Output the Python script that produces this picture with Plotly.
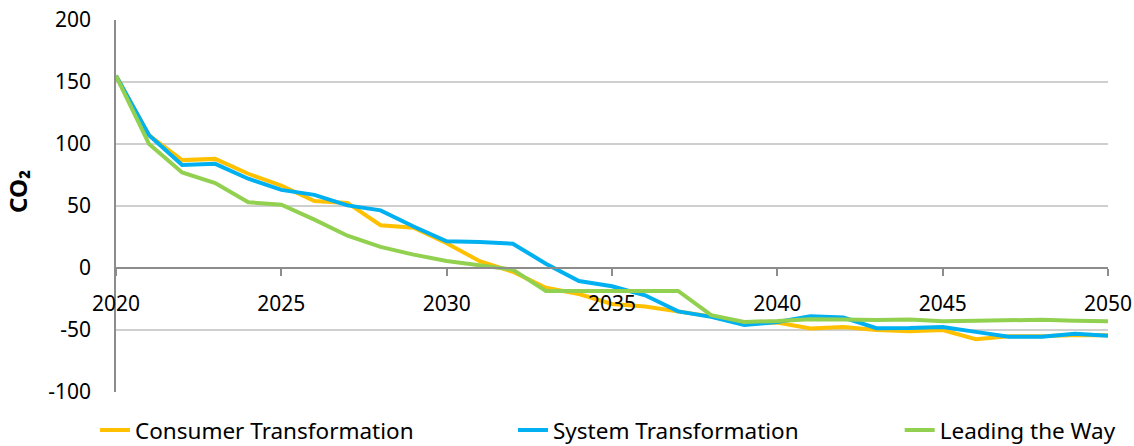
import plotly.graph_objects as go

years = list(range(2020, 2051))
consumer_transformation = [155, 107, 87, 88, 76, 66.5, 54, 52.5, 34.5, 32.5, 20, 5.5, -3, -16, -21,
                           -29, -31, -35, -39, -44.5, -44, -48.8, -47.5, -50, -51, -50, -57.4, -55, -55, -54, -54.3]
system_transformation = [155, 107, 83, 84, 72, 63, 59, 50.5, 46.5, 33.5, 21.5, 21, 19.6, 3.5, -10.5,
                         -14.7, -22, -35, -39.4, -46, -43.5, -39, -40, -48.5, -48.3, -47.5, -51.5, -55.5, -55.5, -53, -54.7]
leading_the_way = [155, 100, 77, 68.5, 53, 51, 39, 26, 17, 10.8, 5.6, 2.2, -1.3, -18.5, -18.5,
                   -18.5, -19.3, -18.5, -38, -43.5, -42.7, -41.3, -41.5, -42, -41.5, -43, -42.6, -42.4, -41.7, -42.6, -43]

x_tick_vals = [2020, 2025, 2030, 2035, 2040, 2045, 2050]
y_tick_vals = [-100, -50, 0, 50, 100, 150, 200]
y_tick_text = ["-100", "-50", "0", "50", "100", "150", "200"]
y_title = "CO₂"

series = [
    ("Consumer Transformation", consumer_transformation, "#FFC000", "legend"),
    ("System Transformation", system_transformation, "#00B0F0", "legend2"),
    ("Leading the Way", leading_the_way, "#92D050", "legend3"),
]

FONT = "Noto Sans"
fig = go.Figure()
for name, vals, col, lg in series:
    fig.add_trace(go.Scatter(x=years, y=vals, name=name, mode="lines", legend=lg,
                             line=dict(color=col, width=4)))

leg_common = dict(orientation="h", xanchor="left", y=-0.103, yanchor="middle",
                  font=dict(size=22.5, family=FONT), bgcolor="rgba(0,0,0,0)")
fig.update_layout(
    width=1134, height=446,
    margin=dict(l=116, r=26, t=20, b=54, autoexpand=False),
    plot_bgcolor="white", paper_bgcolor="white",
    font=dict(family=FONT, color="black", size=21),
    showlegend=True,
    legend=dict(x=-0.0212, **leg_common),
    legend2=dict(x=0.4002, **leg_common),
    legend3=dict(x=0.790, **leg_common),
    xaxis=dict(range=[2020, 2050], tickvals=x_tick_vals,
               anchor="free", position=1/3, showline=True, linecolor="#8c8c8c", linewidth=1.5,
               ticks="outside", ticklen=7, tickcolor="#8c8c8c", tickwidth=1.5,
               showgrid=False, zeroline=False, ticklabelstandoff=10,
               tickfont=dict(size=21, family=FONT)),
    yaxis=dict(range=[-100, 200], tickvals=y_tick_vals, ticktext=y_tick_text,
               showgrid=True, gridcolor="#cfcfcf", gridwidth=1.5, automargin=False,
               showline=True, linecolor="#8c8c8c", linewidth=1.5, zeroline=False,
               ticks="", ticklabelstandoff=19, tickfont=dict(size=21, family=FONT)),
    annotations=[dict(text="<b>" + y_title + "</b>", xref="paper", yref="paper",
                      x=(17 - 116) / 992, y=(392 - 192) / 372, xanchor="center", yanchor="middle",
                      textangle=-90, showarrow=False, font=dict(size=24, family=FONT))],
)

fig.write_html("out.html", config={"displayModeBar": False},
               post_script="document.body.style.margin='0';")
